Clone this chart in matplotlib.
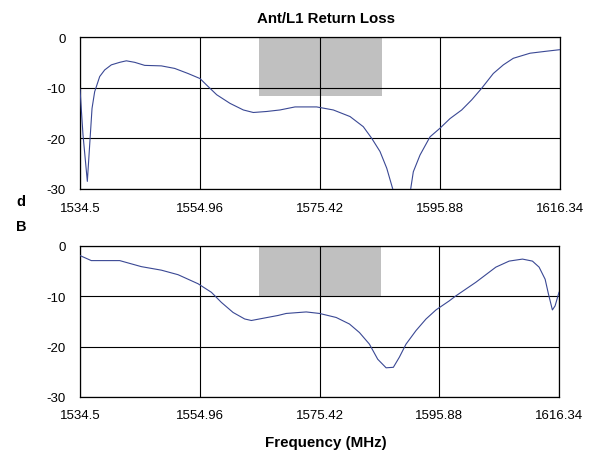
import matplotlib
matplotlib.use("Agg")
import matplotlib.pyplot as plt
import numpy as np

plt.rcParams['font.family'] = ['Liberation Sans', 'DejaVu Sans']
plt.rcParams['axes.unicode_minus'] = False

# frequency axis ticks (MHz)
xticks = [1534.5, 1554.96, 1575.42, 1595.88, 1616.34]
yticks = [0, -10, -20, -30]

# L1 band shading (MHz) and top-of-mask levels (dB)
band_lo = 1565.0
band_hi = 1586.0
mask_top = -11.6
mask_bot = -10.0

# top trace: Ant/L1 return loss
f_top = [1534.5, 1535.01, 1535.75, 1536.15, 1536.55, 1537.0, 1537.86, 1538.71,
         1539.84, 1541.27, 1542.4, 1543.83, 1545.53, 1548.37, 1550.64, 1552.91,
         1554.96, 1556.1, 1557.81, 1560.08, 1562.35, 1564.05, 1566.33, 1568.6,
         1571.16, 1574.85, 1577.69, 1580.54, 1582.8, 1584.24, 1585.65, 1586.8,
         1587.8, 1588.6, 1589.3, 1590.1, 1590.88, 1591.33, 1592.47, 1594.18,
         1595.88, 1597.59, 1599.58, 1601.29, 1603.0, 1604.97, 1606.68, 1608.38,
         1611.23, 1614.07, 1616.34]
rl_top = [-10.3, -19.3, -28.5, -21.3, -14.1, -10.8, -7.8, -6.5,
          -5.5, -5.0, -4.7, -5.0, -5.6, -5.7, -6.2, -7.2,
          -8.2, -9.5, -11.4, -13.1, -14.4, -14.9, -14.7, -14.4,
          -13.8, -13.8, -14.4, -15.7, -17.7, -20.0, -22.6, -25.9,
          -29.9, -33.0, -35.0, -33.0, -30.0, -26.6, -23.3, -19.7,
          -18.0, -16.1, -14.4, -12.4, -10.1, -7.2, -5.5, -4.2,
          -3.2, -2.8, -2.5]

# bottom trace
f_bot = [1534.5, 1536.43, 1541.28, 1544.98, 1548.4, 1551.25, 1554.67, 1556.95,
         1558.65, 1560.65, 1562.64, 1563.78, 1566.05, 1568.33, 1569.74, 1573.15,
         1575.42, 1578.27, 1580.54, 1582.25, 1583.95, 1585.37, 1586.8, 1588.04,
         1589.06, 1590.2, 1591.91, 1593.62, 1595.32, 1597.59, 1598.73, 1602.14,
         1605.55, 1607.82, 1610.1, 1611.8, 1612.94, 1613.97, 1614.53, 1615.21,
         1615.67, 1616.34]
rl_bot = [-1.9, -2.9, -2.9, -4.1, -4.8, -5.7, -7.5, -9.2,
          -11.2, -13.2, -14.5, -14.8, -14.3, -13.8, -13.4, -13.1,
          -13.4, -14.2, -15.5, -17.2, -19.5, -22.5, -24.2, -24.1,
          -22.1, -19.5, -16.8, -14.5, -12.7, -10.9, -9.9, -7.2,
          -4.2, -3.0, -2.6, -3.0, -4.2, -6.6, -9.5, -12.7,
          -11.9, -9.2]

line_col = '#3A4894'
box_col = '#C0C0C0'

fig = plt.figure(figsize=(5.96, 4.60), dpi=100)
ax1 = fig.add_axes([80/596, 1-190/460, 480/596, 152/460])
ax2 = fig.add_axes([80/596, 1-398/460, 479/596, 151/460])

for ax, f, rl, mt in [(ax1, f_top, rl_top, mask_top), (ax2, f_bot, rl_bot, mask_bot)]:
    ax.fill_between([band_lo, band_hi], mt, 0, color=box_col, lw=0, zorder=1)
    ax.plot(f, rl, color=line_col, lw=0.8, zorder=3, solid_joinstyle='round')
    ax.set_xlim(xticks[0], xticks[-1])
    ax.set_ylim(-30, 0)
    ax.set_xticks(xticks)
    ax.set_xticklabels(['%g' % t for t in xticks])
    ax.set_yticks(yticks)
    ax.tick_params(length=0, labelsize=9.5, colors='black')
    ax.tick_params(axis='x', pad=9)
    ax.tick_params(axis='y', pad=10)
    ax.grid(True, color='black', lw=0.8)
    ax.set_axisbelow(False)
    for s in ax.spines.values():
        s.set_linewidth(0.9)
    for gl in ax.get_xgridlines() + ax.get_ygridlines():
        gl.set_zorder(2)

fig.text(326/596, 1-19/460, 'Ant/L1 Return Loss', ha='center', va='center',
         fontsize=10.8, fontweight='bold')
fig.text(21/596, 1-202/460, 'd', ha='center', va='center', fontsize=10.5, fontweight='bold')
fig.text(21/596, 1-227/460, 'B', ha='center', va='center', fontsize=10.5, fontweight='bold')
fig.text(326/596, 1-443/460, 'Frequency (MHz)', ha='center', va='center',
         fontsize=10.9, fontweight='bold')

fig.savefig('out.png', dpi=100)
